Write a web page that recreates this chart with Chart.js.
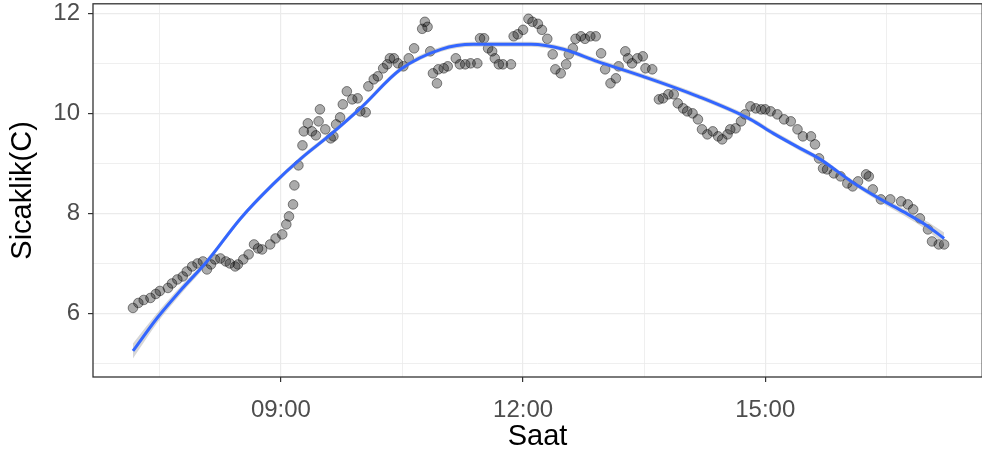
<!DOCTYPE html>
<html>
<head>
<meta charset="utf-8">
<script src="https://cdn.jsdelivr.net/npm/chart.js@4.4.0/dist/chart.umd.min.js"></script>
<style>
  html, body { margin: 0; padding: 0; background: #fff; overflow: hidden; }
  body { width: 982px; height: 456px; position: relative; }
  /* canvas is a bit larger than the window so the panel reaches the edges */
  #wrap { position: absolute; left: 0; top: -2px; width: 988px; height: 458px; }
</style>
</head>
<body>
<div id="wrap"><canvas id="tempChart"></canvas></div>
<script>
// measured temperatures (time of day, degrees C)
const obsTimes = [
  '07:10','07:14','07:18','07:23','07:27','07:30','07:36','07:39','07:43','07:47',
  '07:50','07:54','07:58','08:02','08:05','08:08','08:11','08:15','08:19','08:22',
  '08:26','08:28','08:32','08:36','08:40','08:43','08:46','08:52','08:56','09:01',
  '09:04','09:06','09:09','09:10','09:13','09:16','09:17','09:20','09:23','09:26',
  '09:28','09:29','09:33','09:37','09:39','09:41','09:44','09:46','09:49','09:53',
  '09:57','09:59','10:03','10:05','10:09','10:12','10:16','10:19','10:21','10:24',
  '10:27','10:31','10:35','10:39','10:45','10:47','10:49','10:51','10:53','10:56',
  '10:57','11:01','11:04','11:10','11:13','11:17','11:21','11:26','11:28','11:31',
  '11:34','11:37','11:39','11:42','11:45','11:51','11:53','11:56','12:00','12:04',
  '12:07','12:11','12:14','12:18','12:22','12:24','12:28','12:32','12:34','12:37',
  '12:39','12:43','12:46','12:50','12:54','12:58','13:01','13:05','13:09','13:11',
  '13:16','13:18','13:21','13:25','13:29','13:31','13:36','13:41','13:44','13:48',
  '13:52','13:55','13:59','14:02','14:06','14:10','14:13','14:17','14:21','14:25',
  '14:28','14:32','14:34','14:38','14:42','14:45','14:49','14:53','14:57','15:00',
  '15:04','15:09','15:14','15:19','15:24','15:28','15:34','15:37','15:40','15:43',
  '15:46','15:51','15:56','16:01','16:05','16:09','16:15','16:17','16:20','16:26',
  '16:33','16:41','16:46','16:50','16:55','17:01','17:04','17:09','17:13'
];
const obsTemps = [
  6.11, 6.21, 6.27, 6.31, 6.39, 6.45, 6.51, 6.60, 6.68, 6.74,
  6.84, 6.94, 7.00, 7.04, 6.88, 6.98, 7.08, 7.10, 7.04, 7.00,
  6.94, 6.98, 7.08, 7.18, 7.38, 7.30, 7.28, 7.38, 7.50, 7.58,
  7.78, 7.94, 8.18, 8.56, 8.96, 9.36, 9.64, 9.80, 9.64, 9.56,
  9.84, 10.08, 9.68, 9.50, 9.54, 9.78, 9.92, 10.18, 10.44, 10.28,
  10.30, 10.04, 10.02, 10.54, 10.68, 10.74, 10.90, 10.98, 11.10, 11.10,
  11.00, 10.94, 11.10, 11.30, 11.69, 11.83, 11.73, 11.24, 10.80, 10.60,
  10.88, 10.90, 10.94, 11.10, 10.98, 10.98, 11.00, 11.00, 11.50, 11.50,
  11.30, 11.24, 11.10, 10.98, 10.98, 10.98, 11.54, 11.58, 11.67, 11.89,
  11.83, 11.79, 11.67, 11.49, 11.18, 10.88, 10.80, 10.98, 11.18, 11.30,
  11.49, 11.54, 11.49, 11.54, 11.54, 11.20, 10.88, 10.60, 10.70, 10.94,
  11.24, 11.10, 11.00, 11.10, 11.14, 10.90, 10.88, 10.28, 10.30, 10.38,
  10.38, 10.20, 10.10, 10.04, 10.00, 9.88, 9.68, 9.58, 9.64, 9.54,
  9.48, 9.58, 9.68, 9.70, 9.84, 9.98, 10.14, 10.10, 10.08, 10.08,
  10.04, 9.98, 9.88, 9.84, 9.68, 9.54, 9.54, 9.38, 9.10, 8.90,
  8.88, 8.80, 8.74, 8.60, 8.54, 8.64, 8.78, 8.74, 8.48, 8.28,
  8.28, 8.24, 8.18, 8.08, 7.90, 7.68, 7.44, 7.38, 7.38
];

// loess fit and its confidence band
const fitTimes = [
  '07:10','07:28','07:45','08:05','08:30','08:54','09:15','09:37','09:59','10:29',
  '10:59','11:23','12:06','12:30','12:55','13:29','14:10','14:49','15:06','15:26',
  '15:41','16:04','16:26','16:43','17:01','17:13'
];
const fitTemps = [
  5.25, 5.91, 6.45, 7.04, 7.90, 8.58, 9.10, 9.58, 10.10, 10.88,
  11.28, 11.38, 11.38, 11.28, 11.04, 10.74, 10.34, 9.88, 9.60, 9.30,
  9.08, 8.64, 8.28, 8.03, 7.74, 7.50
];
const fitLow = [
  5.10, 5.81, 6.37, 6.98, 7.85, 8.53, 9.05, 9.53, 10.05, 10.83,
  11.23, 11.33, 11.33, 11.23, 10.99, 10.69, 10.29, 9.83, 9.55, 9.25,
  9.03, 8.59, 8.22, 7.96, 7.65, 7.38
];
const fitHigh = [
  5.40, 6.01, 6.53, 7.10, 7.95, 8.63, 9.15, 9.63, 10.15, 10.93,
  11.33, 11.43, 11.43, 11.33, 11.09, 10.79, 10.39, 9.93, 9.65, 9.35,
  9.13, 8.69, 8.34, 8.10, 7.83, 7.62
];

// axis ticks
const xGridTimes = ['07:30', '09:00', '10:30', '12:00', '13:30', '15:00', '16:30'];
const xLabelTimes = ['09:00', '12:00', '15:00'];
const yGridValues = [5, 6, 7, 8, 9, 10, 11, 12];
const yLabelValues = [6, 8, 10, 12];

function toMin(hhmm) {
    const [h, m] = hhmm.split(':').map(Number);
    return h * 60 + m;
}

function fmtMin(v) {
    const h = Math.floor(v / 60);
    const m = Math.round(v - h * 60);
    return String(h).padStart(2, '0') + ':' + String(m).padStart(2, '0');
}

const pairs = (times, vals) => times.map((t, i) => ({ x: toMin(t), y: vals[i] }));
const xMajor = xLabelTimes.map(toMin);

const FONT = 'Liberation Sans, Arial, sans-serif';

const panelBorder = {
    id: 'panelBorder',
    afterDraw(chart) {
        const { ctx, chartArea: a } = chart;
        ctx.save();
        ctx.strokeStyle = '#333333';
        ctx.lineWidth = 1.3;
        ctx.strokeRect(a.left, a.top, a.right - a.left, a.bottom - a.top);
        ctx.restore();
    }
};

new Chart(document.getElementById('tempChart'), {
    type: 'scatter',
    data: {
        datasets: [
            {
                type: 'line',
                label: 'fit',
                data: pairs(fitTimes, fitTemps),
                borderColor: '#3366FF',
                borderWidth: 3,
                pointRadius: 0,
                cubicInterpolationMode: 'monotone',
                fill: false,
                order: 0
            },
            {
                type: 'line',
                label: 'low',
                data: pairs(fitTimes, fitLow),
                borderWidth: 0,
                borderColor: 'rgba(0,0,0,0)',
                pointRadius: 0,
                cubicInterpolationMode: 'monotone',
                fill: false,
                order: 1
            },
            {
                type: 'line',
                label: 'high',
                data: pairs(fitTimes, fitHigh),
                borderWidth: 0,
                borderColor: 'rgba(0,0,0,0)',
                backgroundColor: 'rgba(153,153,153,0.4)',
                pointRadius: 0,
                cubicInterpolationMode: 'monotone',
                fill: '-1',
                order: 1
            },
            {
                label: 'obs',
                data: pairs(obsTimes, obsTemps),
                backgroundColor: 'rgba(0,0,0,0.33)',
                borderColor: 'rgba(0,0,0,0.45)',
                borderWidth: 1,
                pointRadius: 4.8,
                order: 2
            }
        ]
    },
    options: {
        responsive: true,
        maintainAspectRatio: false,
        animation: false,
        layout: { padding: 0 },
        plugins: {
            legend: { display: false },
            tooltip: { enabled: false }
        },
        scales: {
            x: {
                type: 'linear',
                min: 400.3,
                max: 1061.3,
                afterBuildTicks: s => { s.ticks = xGridTimes.map(t => ({ value: toMin(t) })); },
                afterFit: s => { s.height = 79; },
                grid: {
                    color: '#ebebeb',
                    lineWidth: c => xMajor.includes(c.tick && c.tick.value) ? 1.2 : 0.8,
                    tickColor: c => xMajor.includes(c.tick && c.tick.value) ? '#333333' : 'rgba(0,0,0,0)',
                    tickLength: 5
                },
                border: { display: false },
                ticks: {
                    autoSkip: false,
                    maxRotation: 0,
                    padding: 14,
                    color: '#4d4d4d',
                    font: { family: FONT, size: 24, lineHeight: 1.2 },
                    callback: v => xMajor.includes(v) ? fmtMin(v) : ''
                },
                title: {
                    display: true,
                    text: 'Saat',
                    color: '#000000',
                    padding: { top: 0, bottom: 2 },
                    font: { family: FONT, size: 29, lineHeight: 1.2 }
                }
            },
            y: {
                min: 4.73,
                max: 12.19,
                afterBuildTicks: s => { s.ticks = yGridValues.map(v => ({ value: v })); },
                afterFit: s => { s.width = 93; s.paddingTop = 0; s.paddingBottom = 0; },
                grid: {
                    color: '#ebebeb',
                    lineWidth: c => yLabelValues.includes(c.tick && c.tick.value) ? 1.2 : 0.8,
                    tickColor: c => yLabelValues.includes(c.tick && c.tick.value) ? '#333333' : 'rgba(0,0,0,0)',
                    tickLength: 5
                },
                border: { display: false },
                ticks: {
                    autoSkip: false,
                    padding: 8,
                    color: '#4d4d4d',
                    font: { family: FONT, size: 24, lineHeight: 1.2 },
                    callback: v => yLabelValues.includes(v) ? String(v) : ''
                },
                title: {
                    display: true,
                    text: 'Sicaklik(C)',
                    color: '#000000',
                    padding: { top: 6, bottom: 0 },
                    font: { family: FONT, size: 29, lineHeight: 1.2 }
                }
            }
        }
    },
    plugins: [panelBorder]
});
</script>
</body>
</html>
